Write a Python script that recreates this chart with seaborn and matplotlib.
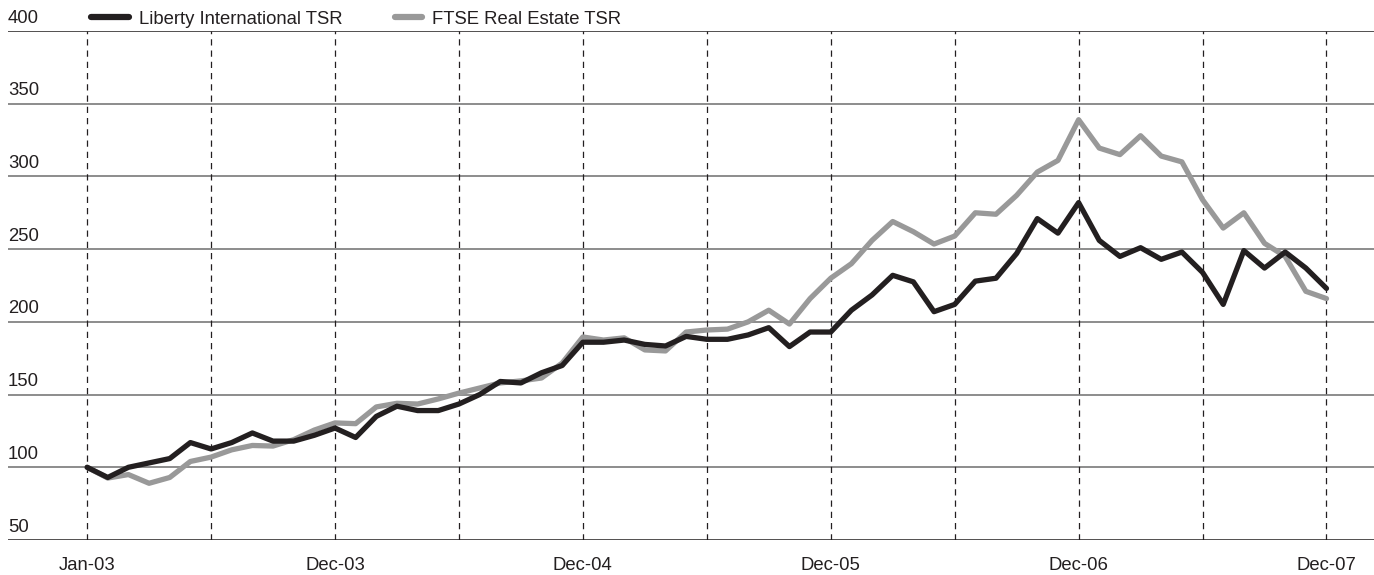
import matplotlib
matplotlib.use("Agg")
import matplotlib.pyplot as plt
from matplotlib.lines import Line2D
import seaborn as sns
import pandas as pd

# Monthly TSR index values (rebased to 100)
liberty = [100, 93, 100, 103, 106, 117, 112.6, 117, 123.6, 118,
           118, 122, 127, 120.5, 135, 142, 139, 139, 143.5, 150,
           159, 158, 165, 170, 186, 186, 187.5, 184.5, 183.4, 190,
           188, 188, 191, 196, 183, 193, 193, 208, 218.5, 232,
           227.5, 207, 212, 228, 230, 247, 271, 261, 282, 256,
           245, 251, 243, 248, 234, 212, 249, 237, 248, 237, 223]
ftse = [100, 92.6, 95, 89, 93, 104, 107, 112, 115, 114.6,
        119, 125.6, 130.5, 130, 141.5, 144, 143.5, 147, 151, 154.5,
        158, 159.4, 161.4, 171.7, 189.6, 187.5, 189, 180.7, 180, 193,
        194.4, 195, 200, 208, 198.5, 216, 230, 240, 256, 269,
        262, 253.5, 259, 275, 274, 287, 303, 311, 339, 319.5,
        315, 328, 314, 310, 284, 264.5, 275, 254, 245, 221, 216]
series_names = ["Liberty International TSR", "FTSE Real Estate TSR"]
x_tick_pos = [0, 12, 24, 36, 48, 60]
x_tick_labels = ["Jan-03", "Dec-03", "Dec-04", "Dec-05", "Dec-06", "Dec-07"]
y_ticks = [50, 100, 150, 200, 250, 300, 350, 400]

n = len(liberty)
df = pd.DataFrame({
    "month": list(range(n)) * 2,
    "value": liberty + ftse,
    "series": [series_names[0]] * n + [series_names[1]] * n,
})

sns.set_style("white")
plt.rcParams["font.family"] = ["Liberation Sans", "DejaVu Sans"]
FS = 13.3
INK = "#231f20"

fig = plt.figure(figsize=(13.74, 5.75), dpi=100)
ax = fig.add_axes([8 / 1374, 1 - 540 / 575, 1 - 8 / 1374, (540 - 31) / 575])

palette = {series_names[0]: INK, series_names[1]: "#999999"}
sns.lineplot(data=df, x="month", y="value", hue="series",
             hue_order=[series_names[1], series_names[0]],
             palette=palette, linewidth=3.8, ax=ax, legend=False)

ax.set_xlim(-3.83, 62.3)
ax.set_ylim(50, 400)

# horizontal gridlines with labels sitting just above them
for yv in y_ticks:
    col = INK if yv in (50, 400) else "#6d6d6d"
    ax.axhline(yv, color=col, lw=1.1, zorder=0)
    ax.text(0.0, yv + 3.0, str(yv), transform=ax.get_yaxis_transform(),
            ha="left", va="bottom", fontsize=FS, color=INK)

# dashed half-year separators
for xv in range(0, n, 6):
    ax.axvline(xv, color=INK, lw=0.9, ls=(0, (5, 4)), zorder=0)

ax.set_yticks([])
ax.set_xticks(x_tick_pos)
ax.set_xticklabels(x_tick_labels, fontsize=FS, color=INK)
ax.tick_params(axis="x", length=0, pad=12)
ax.set_xlabel("")
ax.set_ylabel("")
for s in ax.spines.values():
    s.set_visible(False)

# legend entries across the top (grey key is drawn shorter, as in the original)
for name, x0, hl in [(series_names[0], 91, 2.05), (series_names[1], 395, 1.45)]:
    fig.legend([Line2D([], [], color=palette[name], lw=4.5)], [name],
               loc="center left", bbox_to_anchor=(x0 / 1374, 1 - 19 / 575),
               frameon=False, borderpad=0, borderaxespad=0, fontsize=FS,
               handlelength=hl, handletextpad=0.55, labelcolor=INK)

fig.savefig("out.png", dpi=100)
